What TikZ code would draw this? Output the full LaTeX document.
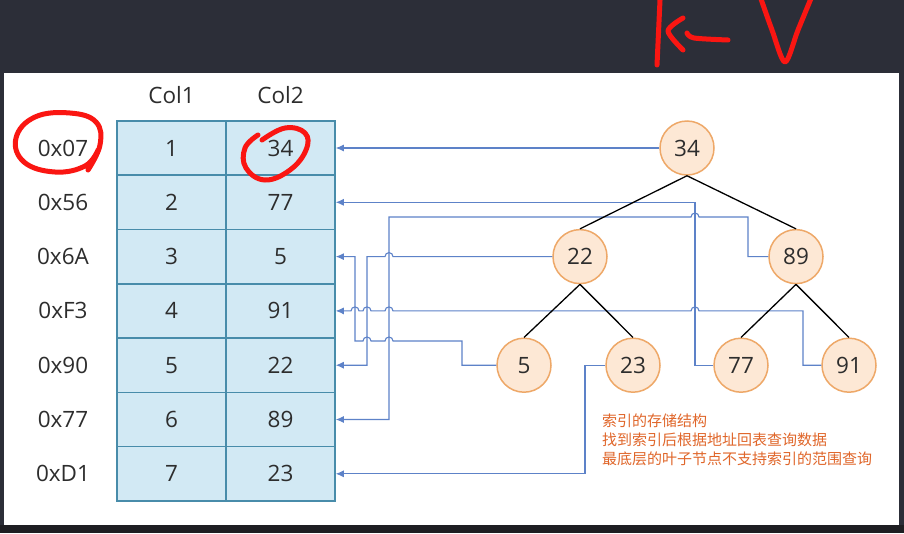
\documentclass[tikz,border=0pt]{standalone}
\usepackage{fontspec}
\setmainfont{Open Sans}
\newfontfamily\cjk{Noto Sans CJK SC}
\usetikzlibrary{arrows.meta}
\definecolor{bgdark}{RGB}{44,46,56}
\definecolor{bgfoot}{RGB}{30,30,34}
\definecolor{cellfill}{RGB}{210,233,244}
\definecolor{cellline}{RGB}{72,140,170}
\definecolor{keyfill}{RGB}{253,232,213}
\definecolor{keyline}{RGB}{238,168,104}
\definecolor{linkblue}{RGB}{93,130,200}
\definecolor{txt}{RGB}{45,45,45}
\definecolor{notecolor}{RGB}{224,102,42}
\definecolor{inkred}{RGB}{250,22,18}
\begin{document}
\begin{tikzpicture}[x=1pt,y=-1pt,
  cell/.style={draw=cellline, fill=cellfill, line width=1.5pt, minimum width=109pt, minimum height=54.3pt, inner sep=0pt, text=txt, font=\fontsize{22.5}{22.5}\selectfont},
  addr/.style={text=txt, inner sep=0pt, font=\fontsize{22.5}{22.5}\selectfont},
  key/.style={circle, draw=keyline, fill=keyfill, line width=1.5pt, minimum size=54pt, inner sep=0pt, text=txt, font=\fontsize{22.5}{22.5}\selectfont},
  link/.style={draw=linkblue, line width=1.1pt, -{Latex[length=8pt,width=7pt]}},
  edge/.style={black, line width=1.3pt},
  ink/.style={draw=inkred, line width=5pt, line cap=round, line join=round}]
\useasboundingbox (0,0) rectangle (904,533);
\fill[bgdark] (0,0) rectangle (904,533);
\fill[bgfoot] (0,525) rectangle (904,533);
\fill[white] (4,73) rectangle (899,525);
\node[addr] (h1) at (171.5,95) {Col1};
\node[addr] (h2) at (280.5,95) {Col2};
\foreach \i/\adr/\a/\b in {1/0x07/1/34, 2/0x56/2/77, 3/0x6A/3/5, 4/0xF3/4/91, 5/0x90/5/22, 6/0x77/6/89, 7/0xD1/7/23} {
  \pgfmathsetmacro\y{148+54.3*(\i-1)}
  \node[cell] (c1-\i) at (171.5,\y) {\a};
  \node[cell] (c2-\i) at (280.5,\y) {\b};
  \node[addr] (a-\i) at (63,\y) {\adr};
}
\node[key] (n34) at (687,148) {34};
\node[key] (n22) at (580,256.6) {22};
\node[key] (n89) at (796,256.6) {89};
\node[key] (n5) at (524,365.2) {5};
\node[key] (n23) at (633,365.2) {23};
\node[key] (n77) at (741,365.2) {77};
\node[key] (n91) at (849,365.2) {91};
\draw[link] (n34.west) -- (c2-1.east);
\draw[link] (n77.west) -- (695,365.2) |- (c2-2.east);
\draw[link] (n89.west) -- (748,256.6) -- (748,217) -- (699,217) arc (0:180:4pt) -- (389,217) |- (c2-6.east);
\draw[link] (n22.west) -- (393,256.6) arc (0:180:4pt) -- (367,256.6) |- (c2-5.east);
\draw[link] (n5.west) -- (462,365.2) -- (462,341) -- (393,341) arc (0:180:4pt) -- (371,341) arc (0:180:4pt) -- (355,341) |- (c2-3.east);
\draw[link] (n91.west) -- (803,365.2) -- (803,310.9) -- (699,310.9) arc (0:180:4pt) -- (393,310.9) arc (0:180:4pt) -- (371,310.9) arc (0:180:4pt) -- (359,310.9) arc (0:180:4pt) -- (c2-4.east);
\draw[link] (n23.west) -- (585,365.2) |- (c2-7.east);
\draw[edge] (n34.south) -- (n22.north);
\draw[edge] (n34.south) -- (n89.north);
\draw[edge] (n22.south) -- (n5.north);
\draw[edge] (n22.south) -- (n23.north);
\draw[edge] (n89.south) -- (n77.north);
\draw[edge] (n89.south) -- (n91.north);
\node[anchor=north west, align=left, inner sep=0pt, text=notecolor, font=\cjk\fontsize{15}{19}\selectfont] (note) at (602,414) {索引的存储结构\\找到索引后根据地址回表查询数据\\最底层的叶子节点不支持索引的范围查询};
\draw[ink] plot[smooth, tension=0.7] coordinates {(88,170) (100,145) (96,122) (70,113) (35,117) (16,138) (24,162) (55,172) (85,166) (98,150)};
\draw[ink] plot[smooth, tension=0.7] coordinates {(262,140) (285,128) (305,133) (306,150) (290,170) (265,180) (246,168) (245,148) (258,135)};
\draw[ink] (660,0) -- (657,65);
\draw[ink] plot[smooth] coordinates {(683,18) (668,31) (683,50)};
\draw[ink] plot[smooth] coordinates {(687,33) (694,38) (728,40)};
\draw[ink] plot[smooth] coordinates {(760,-4) (772,30) (785,62) (798,30) (812,-4)};
\end{tikzpicture}
\end{document}
